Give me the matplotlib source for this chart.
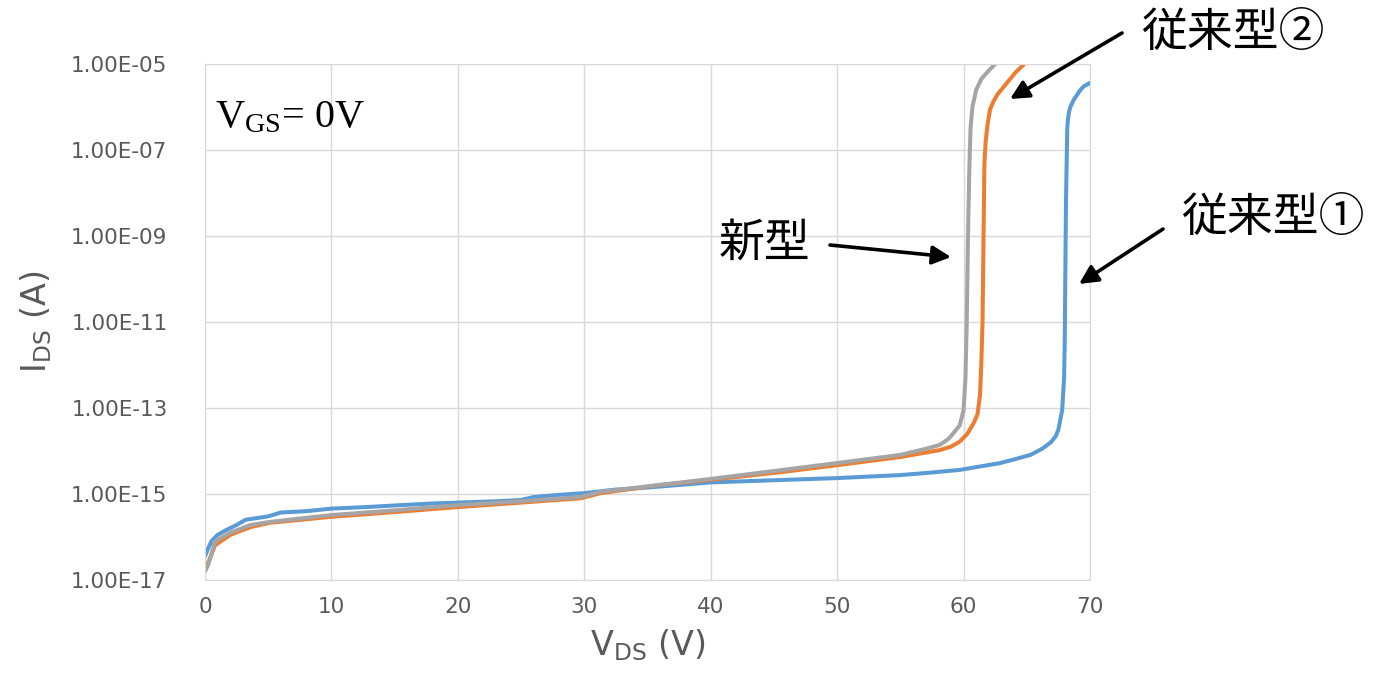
import numpy as np
from matplotlib import pyplot as plt
from matplotlib.ticker import FixedLocator, FuncFormatter, NullLocator

###############################################################################
# Data, log10 of I_DS in A
###############################################################################

# 従来型① (blue)
v_conv1 = [0.0, 0.2, 0.5, 1.0, 1.6, 2.5, 3.2, 5.0, 6.0, 8.0, 10.0, 13.0, 15.4,
           18.0, 20.0, 23.0, 25.0, 26.0, 28.0, 30.0, 32.4, 35.0, 40.0, 45.0,
           50.0, 55.0, 57.5, 59.7, 61.3, 62.9, 64.2, 65.3, 66.2, 66.9, 67.3,
           67.5, 67.8, 67.95, 68.0, 68.1, 68.2, 68.25, 68.35, 68.45, 68.7,
           68.9, 69.2, 69.5, 70.0]
log_conv1 = [-16.45, -16.3, -16.1, -15.95, -15.85, -15.72, -15.6, -15.52,
             -15.43, -15.4, -15.34, -15.3, -15.26, -15.22, -15.2, -15.17,
             -15.14, -15.07, -15.02, -14.98, -14.9, -14.85, -14.73, -14.68,
             -14.63, -14.56, -14.5, -14.44, -14.36, -14.28, -14.18, -14.09,
             -13.95, -13.8, -13.65, -13.5, -13.05, -12.3, -11.5, -8.2, -6.5,
             -6.3, -6.1, -6.0, -5.84, -5.75, -5.62, -5.52, -5.44]

# 従来型② (orange)
v_conv2 = [0.0, 0.25, 0.8, 2.0, 3.6, 5.1, 10.0, 15.0, 20.2, 25.0, 29.7, 31.3,
           36.0, 40.0, 45.6, 50.0, 55.0, 58.1, 59.0, 59.7, 60.3, 60.8, 61.1,
           61.3, 61.4, 61.5, 61.6, 61.65, 61.75, 61.9, 62.1, 62.4, 62.7, 63.4,
           64.1, 64.8]
log_conv2 = [-16.7, -16.6, -16.19, -15.95, -15.77, -15.67, -15.53, -15.42,
             -15.3, -15.2, -15.1, -14.98, -14.79, -14.67, -14.49, -14.33,
             -14.14, -13.98, -13.9, -13.78, -13.6, -13.35, -13.15, -12.7,
             -12.0, -11.0, -8.5, -7.3, -6.8, -6.4, -6.05, -5.85, -5.7, -5.45,
             -5.2, -5.0]

# 新型 (gray)
v_new = [0.0, 0.25, 0.8, 2.0, 3.6, 5.1, 10.0, 15.0, 20.0, 25.0, 29.7, 31.3,
         40.0, 50.0, 55.0, 57.0, 58.1, 58.8, 59.3, 59.7, 60.0, 60.15, 60.25,
         60.35, 60.45, 60.55, 60.7, 61.0, 61.4, 62.0, 62.5]
log_new = [-16.8, -16.65, -16.1, -15.9, -15.72, -15.65, -15.49, -15.38,
           -15.26, -15.17, -15.07, -14.95, -14.65, -14.28, -14.09, -13.95,
           -13.86, -13.72, -13.55, -13.4, -13.05, -12.3, -11.0, -9.0, -7.5,
           -6.5, -6.0, -5.6, -5.35, -5.15, -5.0]

x_ticks = [0, 10, 20, 30, 40, 50, 60, 70]
y_ticks = [1e-17, 1e-15, 1e-13, 1e-11, 1e-9, 1e-7, 1e-5]

###############################################################################
# Plotting
###############################################################################

plt.rcParams['font.family'] = ['DejaVu Sans']
plt.rcParams['mathtext.fontset'] = 'dejavusans'

fig = plt.figure(figsize=(13.78, 6.95), dpi=100)
ax = fig.add_axes([205/1378, 1 - 580/695, 885/1378, 516/695])

for v, lg, c in [(v_conv1, log_conv1, '#5B9BD5'),
                 (v_conv2, log_conv2, '#ED7D31'),
                 (v_new, log_new, '#A5A5A5')]:
    ax.plot(v, 10**np.array(lg), color=c, lw=2.9,
            solid_joinstyle='round', solid_capstyle='round')

ax.set_yscale('log')
ax.set_xlim(0, 70)
ax.set_ylim(1e-17, 1e-5)
ax.xaxis.set_major_locator(FixedLocator(x_ticks))
ax.yaxis.set_major_locator(FixedLocator(y_ticks))
ax.yaxis.set_minor_locator(NullLocator())
ax.yaxis.set_major_formatter(FuncFormatter(lambda v, p: f'{v:.2E}'))

ax.grid(True, color='#d9d9d9', lw=1)
ax.set_axisbelow(True)
for s in ax.spines.values():
    s.set_color('#d9d9d9')
ax.tick_params(length=0, labelsize=15.5, labelcolor='#595959')
ax.tick_params(axis='x', pad=12)
ax.tick_params(axis='y', pad=27)

ax.set_xlabel(r'V$_{\rm DS}$ (V)', fontsize=24, color='#595959', labelpad=8)
ax.set_ylabel(r'I$_{\rm DS}$ (A)', fontsize=24, color='#595959', labelpad=12)

ax.text(0.011, 0.895, r'$\mathregular{V_{GS}}$= 0V', transform=ax.transAxes,
        fontsize=29, family='Liberation Serif', va='center', ha='left')

# annotations (figure pixel positions, origin top-left)
def fp(x, y):
    return (x/1378, 1 - y/695)

cjk = ['Noto Sans CJK JP', 'DejaVu Sans']
arrow = dict(arrowstyle='-|>', color='black', lw=2.6, mutation_scale=28,
             shrinkA=0, shrinkB=0)

fig.text(*fp(1141, 33), '従来型②', family=cjk, fontsize=33, va='center')
fig.text(*fp(1181, 218), '従来型①', family=cjk, fontsize=33, va='center')
fig.text(*fp(719, 243), '新型', family=cjk, fontsize=33, va='center')

ax.annotate('', xy=fp(1010, 99), xytext=fp(1122, 33),
            xycoords='figure fraction', textcoords='figure fraction',
            arrowprops=arrow)
ax.annotate('', xy=fp(1079, 284), xytext=fp(1163, 229),
            xycoords='figure fraction', textcoords='figure fraction',
            arrowprops=arrow)
ax.annotate('', xy=fp(951, 257), xytext=fp(830, 245),
            xycoords='figure fraction', textcoords='figure fraction',
            arrowprops=arrow)

plt.savefig('out.png', dpi=100)
